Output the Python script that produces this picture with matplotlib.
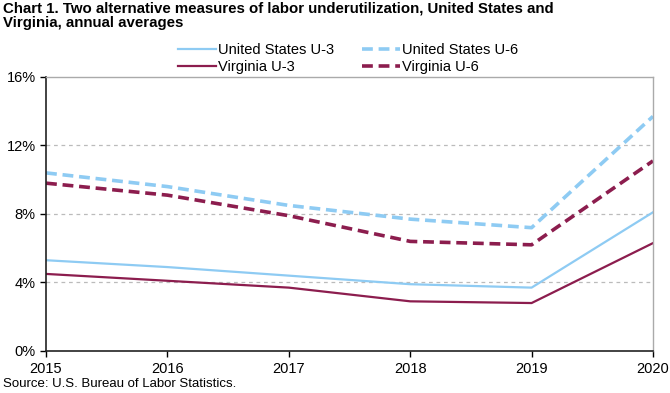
import matplotlib
matplotlib.use('Agg')
import matplotlib.pyplot as plt
from matplotlib.ticker import FuncFormatter

plt.rcParams['font.family'] = ['Liberation Sans Narrow', 'Liberation Sans', 'DejaVu Sans']

years = [2015, 2016, 2017, 2018, 2019, 2020]
us_u3 = [5.3, 4.9, 4.4, 3.9, 3.7, 8.1]
us_u6 = [10.4, 9.6, 8.5, 7.7, 7.2, 13.7]
va_u3 = [4.5, 4.1, 3.7, 2.9, 2.8, 6.3]
va_u6 = [9.8, 9.1, 7.9, 6.4, 6.2, 11.1]
y_ticks = [0, 4, 8, 12, 16]

light_blue = '#8ecbf3'
maroon = '#8c1d4e'

fig = plt.figure(figsize=(6.7, 3.93), dpi=100)
ax = fig.add_axes([0.0687, 0.1069, 0.9059, 0.6972])

l1, = ax.plot(years, us_u3, color=light_blue, lw=1.6, label='United States U-3')
l2, = ax.plot(years, us_u6, color=light_blue, lw=2.6, ls=(0, (3, 1.6)), label='United States U-6')
l3, = ax.plot(years, va_u3, color=maroon, lw=1.6, label='Virginia U-3')
l4, = ax.plot(years, va_u6, color=maroon, lw=2.6, ls=(0, (3, 1.6)), label='Virginia U-6')

ax.set_xlim(2015, 2020)
ax.set_ylim(0, 16)
ax.set_xticks(years)
ax.set_yticks(y_ticks)
ax.yaxis.set_major_formatter(FuncFormatter(lambda v, p: f'{v:.0f}%'))
ax.tick_params(labelsize=10.5, direction='out', length=4, width=1, colors='black')
ax.tick_params(axis='x', pad=4)

for v in [4, 8, 12]:
    ax.axhline(v, color='#bbbbbb', lw=0.9, ls=(0, (3, 3)), zorder=0)

for s in ['top', 'right']:
    ax.spines[s].set_color('#aaaaaa')
    ax.spines[s].set_linewidth(1)
for s in ['left', 'bottom']:
    ax.spines[s].set_color('#222222')
    ax.spines[s].set_linewidth(1.2)

fig.text(0.004, 0.997, 'Chart 1. Two alternative measures of labor underutilization, United States and\nVirginia, annual averages',
         ha='left', va='top', fontsize=10.8, fontweight='bold', linespacing=1.05)

# column-first fill: order handles so rows read US / Virginia
fig.legend([l1, l3, l2, l4], [l.get_label() for l in [l1, l3, l2, l4]],
           loc='upper left', bbox_to_anchor=(0.255, 0.91), ncol=2, frameon=False,
           fontsize=10.5, handlelength=2.6, handletextpad=0.15, columnspacing=1.9,
           labelspacing=0.25, borderpad=0)

fig.text(0.004, 0.008, 'Source: U.S. Bureau of Labor Statistics.', ha='left', va='bottom', fontsize=9.5)

fig.savefig('out.png', dpi=100)
